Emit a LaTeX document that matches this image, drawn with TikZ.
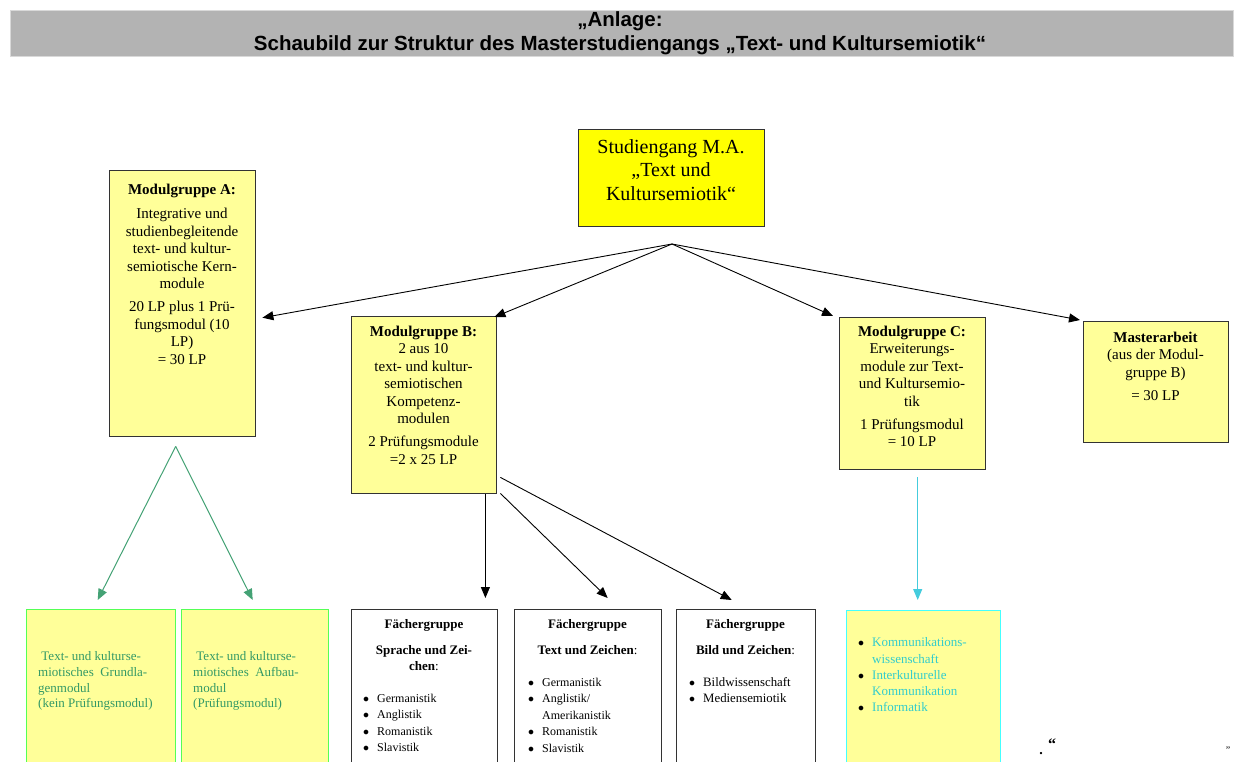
\documentclass[tikz,border=0pt]{standalone}
\usepackage{fontspec}
\setmainfont{Liberation Serif}
\newfontfamily\hsans{Liberation Sans}
\usetikzlibrary{arrows.meta,calc}
\definecolor{lyel}{HTML}{FFFF99}
\definecolor{syel}{HTML}{FFFF00}
\definecolor{hgray}{HTML}{B3B3B3}
\definecolor{bord}{HTML}{333333}
\definecolor{gbord}{HTML}{55FF55}
\definecolor{gtext}{HTML}{339966}
\definecolor{garrow}{HTML}{44A275}
\definecolor{cbord}{HTML}{44FFFF}
\definecolor{ctext}{HTML}{33CCCC}
\definecolor{carrow}{HTML}{44CCDD}
\newcommand\bl{\makebox[14pt][l]{\color{black}$\bullet$}}
\begin{document}
\begin{tikzpicture}[x=1pt,y=-1pt,
  box/.style={draw=bord, line width=1.4pt, fill=lyel, anchor=north west, inner sep=0pt},
  wbox/.style={draw=bord, line width=1.4pt, fill=white, anchor=north west, inner sep=0pt},
  gbox/.style={draw=gbord, line width=1.4pt, fill=lyel, anchor=north west, inner sep=0pt},
  cbox/.style={draw=cbord, line width=1.4pt, fill=lyel, anchor=north west, inner sep=0pt},
  mtxt/.style={align=center, inner sep=0pt, anchor=north, font=\fontsize{15}{17.5}\selectfont},
  stxt/.style={align=center, inner sep=0pt, anchor=north, font=\fontsize{13}{16}\selectfont},
  ltxt/.style={align=left, inner sep=0pt, anchor=north west, font=\fontsize{12}{16.6}\selectfont},
  arr/.style={draw=black, line width=0.9pt, -{Triangle[length=11pt,width=9pt]}},
  garr/.style={draw=garrow, line width=1pt, -{Triangle[length=11pt,width=9pt]}},
  carr/.style={draw=carrow, line width=1pt, -{Triangle[length=11pt,width=9pt]}}]
\useasboundingbox (0,0) rectangle (1236,762);
\clip (0,0) rectangle (1236,762);
\fill[white] (0,0) rectangle (1236,762);
% title
\node[draw=white!85!black, fill=hgray, anchor=north west, minimum width=1223, minimum height=46, inner sep=0pt] (title) at (10,10) {};
\node[font=\hsans\bfseries\fontsize{20.5}{22}\selectfont, inner sep=0pt] (t1) at (620,21.5) {„Anlage:};
\node[font=\hsans\bfseries\fontsize{20.5}{22}\selectfont, inner sep=0pt] (t2) at (620,45) {Schaubild zur Struktur des Masterstudiengangs „Text- und Kultursemiotik“};
% main boxes
\node[box, fill=syel, minimum width=186, minimum height=97] (S) at (578,129) {};
\node[mtxt, font=\fontsize{20}{23.5}\selectfont] (St) at (671,139) {Studiengang M.A.\\„Text und\\Kultursemiotik“};
\node[box, minimum width=146, minimum height=266] (A) at (109,170) {};
\node[mtxt] (At) at (182,184) {\textbf{Modulgruppe A:}\\[6.5pt]Integrative und\\studienbegleitende\\text- und kultur-\\semiotische Kern-\\module\\[5.5pt]20 LP plus 1 Prü-\\fungsmodul (10\\LP)\\= 30 LP};
\node[box, minimum width=145, minimum height=177] (B) at (351,316) {};
\node[mtxt] (Bt) at (423.5,325.5) {\textbf{Modulgruppe B:}\\2 aus 10\\text- und kultur-\\semiotischen\\Kompetenz-\\modulen\\[5.5pt]2 Prüfungsmodule\\=2 x 25 LP};
\node[box, minimum width=146, minimum height=152] (C) at (839,317) {};
\node[mtxt] (Ct) at (912,325.5) {\textbf{Modulgruppe C:}\\Erweiterungs-\\module zur Text-\\und Kultursemio-\\tik\\[5.5pt]1 Prüfungsmodul\\= 10 LP};
\node[box, minimum width=145, minimum height=121] (M) at (1083,321) {};
\node[mtxt] (Mt) at (1155.5,331.5) {\textbf{Masterarbeit}\\(aus der Modul-\\gruppe B)\\[5.5pt]= 30 LP};
% hub
\coordinate (hub) at (672,244);
\draw[arr] (hub) -- ([shift={(6,14)}]A.east);
\draw[arr] (hub) -- ([shift={(-3,1)}]B.north east);
\draw[arr] (hub) -- ([shift={(-6,-1)}]C.north west);
\draw[arr] (hub) -- ([shift={(-3,-1)}]M.north west);
% bottom boxes
\node[gbox, minimum width=149, minimum height=170] (G1) at (26,609) {};
\node[gbox, minimum width=147, minimum height=170] (G2) at (181,609) {};
\node[wbox, minimum width=146, minimum height=170] (F1) at (351,609) {};
\node[wbox, minimum width=147, minimum height=170] (F2) at (514,609) {};
\node[wbox, minimum width=139, minimum height=170] (F3) at (676,609) {};
\node[cbox, minimum width=154, minimum height=170] (K) at (846,610) {};
% bottom texts
\node[ltxt, text=gtext, font=\fontsize{13}{15.7}\selectfont] (G1t) at (38,651.5) {\ Text- und kulturse-\\miotisches\ \ Grundla-\\genmodul\\(kein Prüfungsmodul)};
\node[ltxt, text=gtext, font=\fontsize{13}{15.7}\selectfont] (G2t) at (193,651.5) {\ Text- und kulturse-\\miotisches\ \ Aufbau-\\modul\\(Prüfungsmodul)};
\node[stxt] (F1h) at (424,619) {\textbf{Fächergruppe}\\[10pt]\textbf{Sprache und Zei-}\\\textbf{chen}:};
\node[ltxt] (F1l) at (363,693.5) {\bl Germanistik\\\bl Anglistik\\\bl Romanistik\\\bl Slavistik};
\node[stxt] (F2h) at (587.5,619) {\textbf{Fächergruppe}\\[10pt]\textbf{Text und Zeichen}:};
\node[ltxt] (F2l) at (528,677.5) {\bl Germanistik\\\bl Anglistik/\\\hspace*{14pt}Amerikanistik\\\bl Romanistik\\\bl Slavistik};
\node[stxt] (F3h) at (745.5,619) {\textbf{Fächergruppe}\\[10pt]\textbf{Bild und Zeichen}:};
\node[ltxt, font=\fontsize{12.8}{16.3}\selectfont] (F3l) at (689,677) {\bl Bildwissenschaft\\\bl Mediensemiotik};
\node[ltxt, text=ctext, font=\fontsize{13}{16.3}\selectfont] (Kl) at (858,637.5) {\bl Kommunikations-\\\hspace*{14pt}wissenschaft\\\bl Interkulturelle\\\hspace*{14pt}Kommunikation\\\bl Informatik};
% lower arrows
\coordinate (Ab) at ([shift={(-7,9)}]A.south);
\draw[garr] (Ab) -- ([shift={(-3.5,-9)}]G1.north);
\draw[garr] (Ab) -- ([shift={(-2.5,-9)}]G2.north);
\draw[arr] ([shift={(-12,0)}]B.south east) -- ([shift={(-13,-11)}]F1.north east);
\draw[arr] ([shift={(3,-1)}]B.south east) -- ([shift={(19.5,-11)}]F2.north);
\draw[arr] ([shift={(3,-17)}]B.south east) -- ([shift={(-14.5,-9)}]F3.north);
\draw[carr] ([shift={(5,7)}]C.south) -- ([shift={(-6,-10)}]K.north);
% stray marks
\node[font=\bfseries\fontsize{16}{16}\selectfont, inner sep=0pt] (q1) at (1052,744) {“};
\node[font=\bfseries\fontsize{14}{14}\selectfont, inner sep=0pt] (q2) at (1041,754) {.};
\node[font=\fontsize{10}{10}\selectfont, inner sep=0pt] (q3) at (1228,750) {\symbol{34}};
\end{tikzpicture}
\end{document}
